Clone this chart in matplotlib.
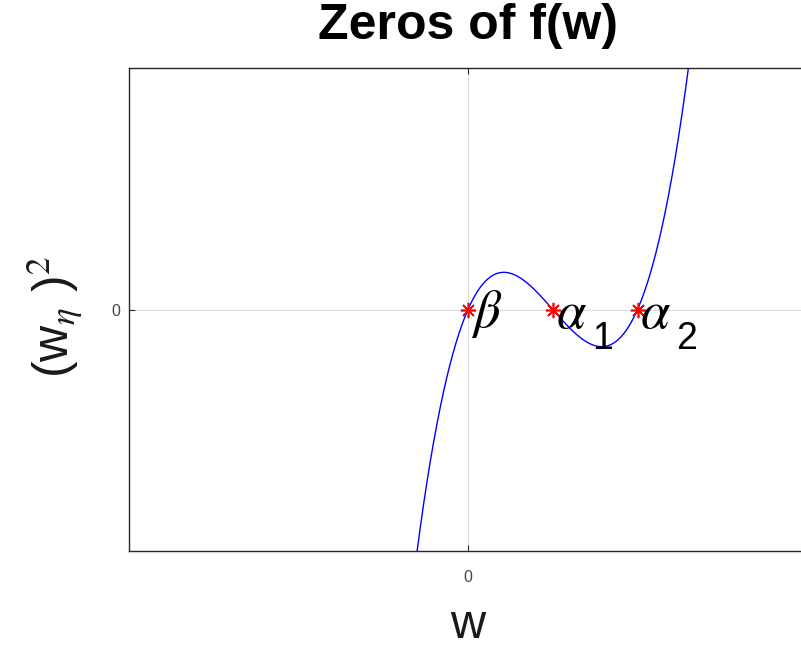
import matplotlib
matplotlib.use("Agg")
import matplotlib.pyplot as plt
import numpy as np

plt.rcParams['font.family'] = ['Liberation Sans', 'DejaVu Sans']
plt.rcParams['mathtext.fontset'] = 'stix'

# roots of f(w) = w (w - 1) (w - 2)
roots = [0.0, 1.0, 2.0]
root_syms = [r'$\beta$', r'$\alpha$', r'$\alpha$']
root_subs = ['', '1', '2']
xlim = [-4, 4]
ylim = [-2.5, 2.5]

w = np.linspace(-1.0, 3.0, 800)
f = w * (w - 1) * (w - 2)

fig = plt.figure(figsize=(8.01, 6.5), dpi=100)
ax = fig.add_axes([129 / 801, 1 - 551 / 650, 678 / 801, 483 / 650])

ax.plot(w, f, color='#0000ff', lw=1)
ax.plot(roots, np.zeros(len(roots)), linestyle='none', marker=(8, 2, 0),
        color='red', ms=11, mew=1.2)

for r, s, sub in zip(roots, root_syms, root_subs):
    ax.annotate(s, (r, 0), xytext=(2, -3), textcoords='offset points',
                ha='left', va='center', fontsize=38)
    if sub:
        ax.annotate(sub, (r, 0), xytext=(28, -21), textcoords='offset points',
                    ha='left', va='center', fontsize=27)

ax.set_xlim(xlim)
ax.set_ylim(ylim)
ax.set_xticks([0])
ax.set_yticks([0])
ax.grid(True, color='#dedede', lw=0.8)
ax.set_axisbelow(True)
ax.tick_params(direction='in', length=4, labelsize=11.5, top=True, right=True,
               colors='#262626', labelcolor='#444444')
ax.tick_params(axis='x', pad=13.5)
ax.tick_params(axis='y', pad=6.5)
for sp in ax.spines.values():
    sp.set_color('#262626')
    sp.set_linewidth(1)

ax.set_title('Zeros of f(w)', fontsize=36, fontweight='bold', pad=21)
ax.set_xlabel('w', fontsize=35, labelpad=13, color='#1a1a1a')
ax.set_ylabel(r'(w$_{\eta}$ )$^2$', fontsize=36, color='#1a1a1a')
ax.yaxis.set_label_coords(-0.066, 0.485)

fig.savefig('out.png', dpi=100)
